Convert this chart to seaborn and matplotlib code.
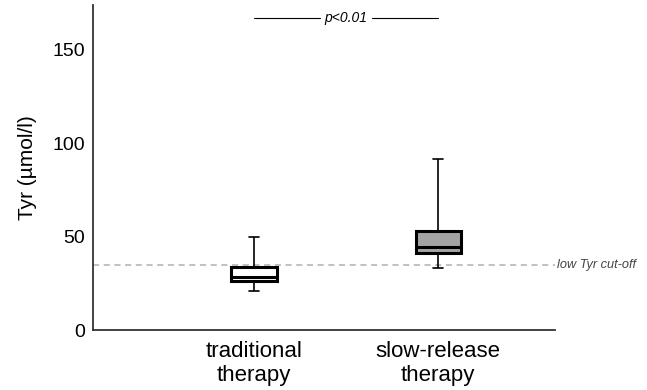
import pandas as pd
import matplotlib.pyplot as plt
import seaborn as sns

groups = ["traditional\ntherapy", "slow-release\ntherapy"]
traditional = [21.0, 26.2, 28.4, 33.7, 50.0]
slow_release = [33.4, 41.4, 44.6, 53.0, 91.6]
box_colors = ["white", "#a4a4a4"]
cutoff = 35
p_label = "p<0.01"

df = pd.DataFrame({
    "group": [groups[0]] * len(traditional) + [groups[1]] * len(slow_release),
    "tyr": traditional + slow_release,
})

sns.set_style("white")
plt.rcParams["font.family"] = ["Liberation Sans", "DejaVu Sans"]
plt.rcParams["text.color"] = "black"
plt.rcParams["axes.labelcolor"] = "black"
plt.rcParams["xtick.color"] = "black"
plt.rcParams["ytick.color"] = "black"

fig = plt.figure(figsize=(6.47, 3.90), dpi=100)
ax = fig.add_axes([0.1437, 0.1538, 0.858 - 0.1437, 0.987 - 0.1538])

ax.axhline(cutoff, color="#b0b0b0", ls=(0, (4, 3)), lw=1.1, zorder=1)

sns.boxplot(data=df, x="group", y="tyr", hue="group", palette=box_colors,
            order=groups, whis=(0, 100), width=0.245, linecolor="black",
            linewidth=1.2, legend=False, ax=ax, capwidths=0.055,
            boxprops=dict(linewidth=2.2), medianprops=dict(linewidth=2.2))

ax.set_xlim(-0.875, 1.636)
ax.set_ylim(0, 174)
ax.set_yticks([0, 50, 100, 150])
ax.tick_params(axis="both", length=0)
ax.tick_params(axis="y", labelsize=14, pad=6)
ax.tick_params(axis="x", labelsize=16, pad=8)
ax.set_xlabel("")
ax.set_ylabel("Tyr (µmol/l)", fontsize=15, labelpad=11)
sns.despine(ax=ax)
for s in ["left", "bottom"]:
    ax.spines[s].set_color("#333333")
    ax.spines[s].set_linewidth(1.3)

# significance bar
ax.plot([0, 0.36], [167, 167], color="black", lw=0.8)
ax.plot([0.64, 1.0], [167, 167], color="black", lw=0.8)
ax.text(0.5, 167, p_label, ha="center", va="center", style="italic", fontsize=10)

ax.text(1.645, cutoff, "low Tyr cut-off", ha="left", va="center", style="italic",
        fontsize=9.2, color="#444444", clip_on=False)

fig.savefig("out.png", dpi=100)
